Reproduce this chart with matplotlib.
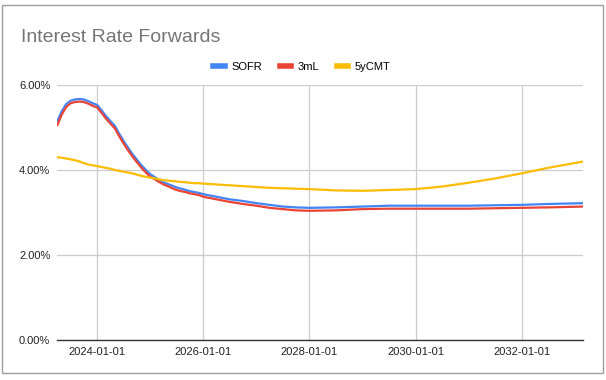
import numpy as np
import pandas as pd
import matplotlib
matplotlib.use("Agg")
import matplotlib.pyplot as plt
import matplotlib.dates as mdates
from matplotlib.patches import Rectangle
from matplotlib.lines import Line2D
from matplotlib.ticker import FuncFormatter

plt.rcParams['font.family'] = ['Liberation Sans', 'DejaVu Sans']

# forward curve dates (monthly near term, then quarterly / semiannual)
dates = ["2023-04-01", "2023-05-01", "2023-06-01", "2023-07-01", "2023-08-01",
         "2023-09-01", "2023-10-01", "2023-11-01", "2023-12-01", "2024-01-01",
         "2024-02-01", "2024-03-01", "2024-04-01", "2024-05-01", "2024-06-01",
         "2024-07-01", "2024-08-01", "2024-09-01", "2024-10-01", "2024-11-01",
         "2024-12-01", "2025-01-01", "2025-02-01", "2025-03-01", "2025-04-01",
         "2025-05-01", "2025-06-01", "2025-07-01", "2025-08-01", "2025-09-01",
         "2025-10-01", "2025-11-01", "2025-12-01", "2026-01-01", "2026-04-01",
         "2026-07-01", "2026-10-01", "2027-01-01", "2027-04-01", "2027-07-01",
         "2027-10-01", "2028-01-01", "2028-07-01", "2029-01-01", "2029-07-01",
         "2030-01-01", "2030-07-01", "2031-01-01", "2031-07-01", "2032-01-01",
         "2032-07-01", "2033-03-01"]

sofr = [5.15, 5.38, 5.55, 5.63, 5.66, 5.67, 5.66, 5.62, 5.57, 5.53,
        5.40, 5.27, 5.15, 5.04, 4.85, 4.68, 4.52, 4.37, 4.24, 4.11,
        4.00, 3.90, 3.83, 3.77, 3.71, 3.67, 3.63, 3.59, 3.56, 3.53,
        3.50, 3.48, 3.46, 3.43, 3.37, 3.31, 3.27, 3.22, 3.18, 3.14,
        3.12, 3.11, 3.12, 3.14, 3.16, 3.16, 3.16, 3.16, 3.17, 3.18,
        3.20, 3.22]

libor3m = [5.05, 5.30, 5.48, 5.57, 5.60, 5.61, 5.60, 5.56, 5.51, 5.47,
           5.34, 5.21, 5.09, 4.98, 4.79, 4.62, 4.46, 4.31, 4.18, 4.05,
           3.94, 3.84, 3.78, 3.72, 3.66, 3.62, 3.57, 3.53, 3.50, 3.48,
           3.45, 3.43, 3.41, 3.37, 3.31, 3.25, 3.20, 3.16, 3.11, 3.08,
           3.05, 3.04, 3.05, 3.08, 3.09, 3.09, 3.09, 3.09, 3.10, 3.11,
           3.12, 3.14]

cmt5y = [4.30, 4.29, 4.27, 4.25, 4.23, 4.20, 4.16, 4.13, 4.11, 4.09,
         4.07, 4.05, 4.03, 4.00, 3.98, 3.96, 3.94, 3.92, 3.89, 3.86,
         3.84, 3.82, 3.80, 3.78, 3.76, 3.75, 3.74, 3.73, 3.72, 3.71,
         3.70, 3.69, 3.69, 3.68, 3.66, 3.64, 3.62, 3.60, 3.58, 3.57,
         3.56, 3.55, 3.52, 3.51, 3.53, 3.55, 3.61, 3.70, 3.80, 3.92,
         4.05, 4.20]

series = ["SOFR", "3mL", "5yCMT"]
colors = ["#4285F4", "#EA4335", "#FBBC04"]
xticks = ["2024-01-01", "2026-01-01", "2028-01-01", "2030-01-01", "2032-01-01"]
yticks = [0, 2, 4, 6]

x = pd.to_datetime(dates)

fig = plt.figure(figsize=(6.06, 3.80), dpi=100)
ax = fig.add_axes([57.3 / 606, 1 - 340 / 380, (583.3 - 57.3) / 606, (340 - 85) / 380])

for vals, name, c in zip([sofr, libor3m, cmt5y], series, colors):
    ax.plot(x, vals, color=c, lw=1.6, label=name, solid_capstyle='round')

ax.set_xlim(x[0], x[-1])
ax.set_ylim(0, 6)
ax.set_yticks(yticks)
ax.yaxis.set_major_formatter(FuncFormatter(lambda v, p: "{:.2f}%".format(v)))
ax.set_xticks(pd.to_datetime(xticks))
ax.xaxis.set_major_formatter(mdates.DateFormatter("%Y-%m-%d"))

ax.grid(True, color="#cccccc", lw=0.9)
ax.set_axisbelow(True)
for s in ["top", "right", "left"]:
    ax.spines[s].set_visible(False)
ax.spines["bottom"].set_color("#333333")
ax.spines["bottom"].set_linewidth(1.0)
ax.tick_params(length=0, labelsize=8, labelcolor="#222222")
ax.tick_params(axis="x", pad=5)
ax.tick_params(axis="y", pad=5)

fig.text(21 / 606, 1 - 38 / 380, "Interest Rate Forwards", fontsize=14,
         color="#757575", va="center", ha="left")

handles = [Line2D([0], [0], color=c, lw=4) for c in colors]
fig.legend(handles, series, loc="center", bbox_to_anchor=(302 / 606, 1 - 67 / 380),
           ncol=3, frameon=False, fontsize=8, handlelength=1.0,
           handletextpad=0.6, columnspacing=1.6)

fig.patches.append(Rectangle((2 / 606, 1 - 373 / 380), 601 / 606, 368 / 380,
                             transform=fig.transFigure, fill=False,
                             edgecolor="#9e9e9e", lw=1))

fig.savefig("out.png", dpi=100)
